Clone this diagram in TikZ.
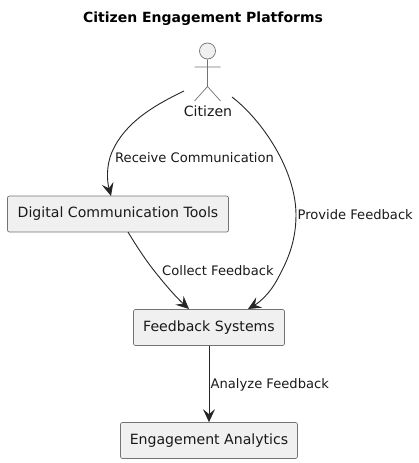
\documentclass[tikz,border=0pt]{standalone}
\usepackage{fontspec}
\setmainfont{DejaVu Sans}
\usetikzlibrary{arrows.meta}
\tikzset{
  boxnode/.style={draw=black!55,fill=black!6,rounded corners=2pt,line width=0.7pt,inner sep=0pt,minimum height=36pt,font=\fontsize{14.1pt}{17pt}\selectfont,text=black!90},
  edgelabel/.style={inner sep=0pt,anchor=west,font=\fontsize{13.1pt}{16pt}\selectfont,text=black!90},
  link/.style={draw=black!85,line width=0.9pt,-{Stealth[length=13pt,width=12pt,inset=5pt]}},
  actorline/.style={draw=black!55,line width=0.7pt}
}
\begin{document}
\begin{tikzpicture}[x=1pt,y=-1pt]
\useasboundingbox (0,0) rectangle (419,463);
\node[font=\bfseries\fontsize{14pt}{17pt}\selectfont] (title) at (203,18.5) {Citizen Engagement Platforms};
% actor
\node[circle,draw=black!55,fill=black!6,line width=0.7pt,minimum size=16pt,inner sep=0pt] (head) at (207.5,51) {};
\coordinate (hip) at (207.5,86.5);
\coordinate (armL) at (194.5,67);
\coordinate (armR) at (220.5,67);
\coordinate (legL) at (194.5,101);
\coordinate (legR) at (220.5,101);
\draw[actorline] (head.south) -- (hip) -- (legL) (hip) -- (legR) (armL) -- (armR);
\node[inner sep=0pt,font=\fontsize{14.1pt}{17pt}\selectfont,text=black!90] (citizen) at (208,111) {Citizen};
% boxes
\node[boxnode,minimum width=221pt] (tools) at (118,214) {Digital Communication Tools};
\node[boxnode,minimum width=151pt] (feedback) at (209,327.5) {Feedback Systems};
\node[boxnode,minimum width=177pt] (analytics) at (209,440.5) {Engagement Analytics};
% connector ends
\coordinate (cl) at (184,91);
\coordinate (cr) at (232,97);
\coordinate (tin) at (111,196);
\coordinate (tout) at (128,232);
\coordinate (fa) at (189,309);
\coordinate (fb) at (248,309);
\draw[link] (cl) .. controls (155,105) and (125,122) .. (112,152) .. controls (106,166) and (107,181) .. (tin);
\draw[link] (cr) .. controls (262,120) and (296,170) .. (296,215) .. controls (296,245) and (285,265) .. (277,280) .. controls (270,293) and (260,302) .. (fb);
\draw[link] (tout) .. controls (140,252) and (150,266) .. (160,278) .. controls (168,288) and (178,299) .. (fa);
\draw[link] (feedback.south) -- (analytics.north);
% labels
\node[edgelabel] (l1) at (115,158) {Receive Communication};
\node[edgelabel] (l2) at (297.5,215) {Provide Feedback};
\node[edgelabel] (l3) at (162,271) {Collect Feedback};
\node[edgelabel] (l4) at (210.5,385) {Analyze Feedback};
\end{tikzpicture}
\end{document}
